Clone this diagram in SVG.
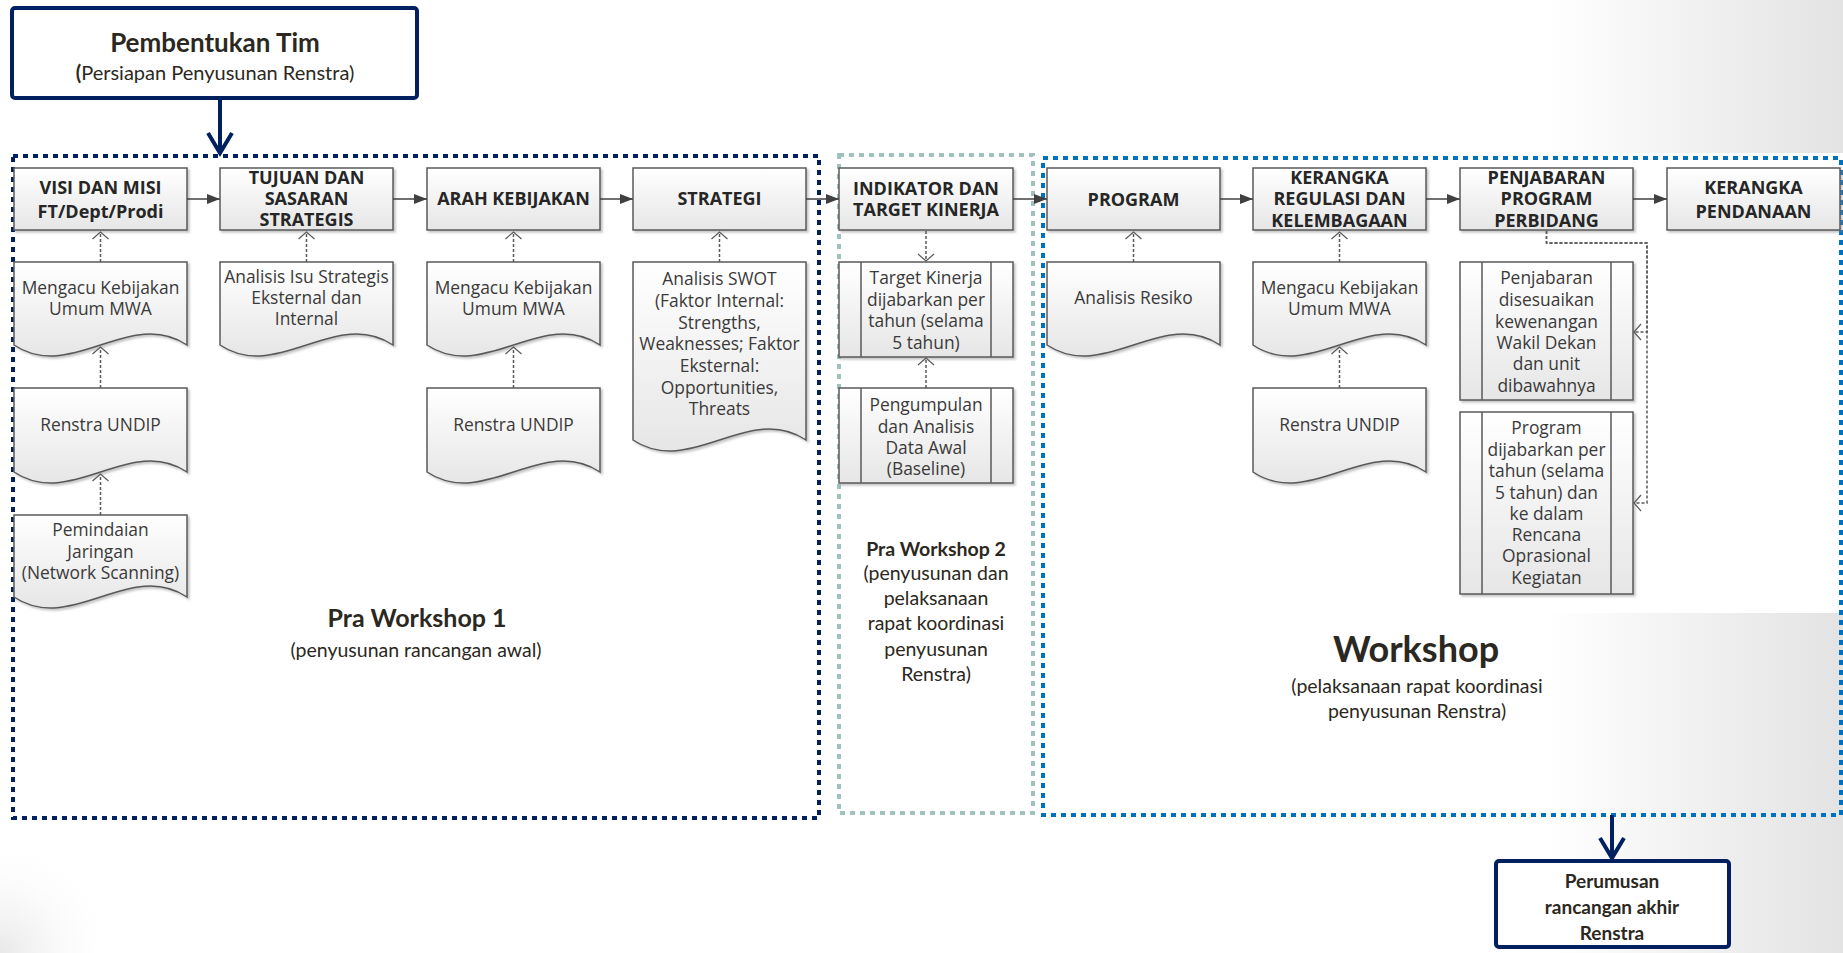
<svg xmlns="http://www.w3.org/2000/svg" width="1843" height="953" viewBox="0 0 1843 953">
<defs>
<style>
.t{font-family:"Open Sans","Noto Sans",sans-serif;font-weight:bold;font-size:18px;fill:#262626;text-anchor:middle;dominant-baseline:central}
.d{font-family:"Open Sans","Noto Sans",sans-serif;font-size:17.4px;fill:#3a3a3a;text-anchor:middle;dominant-baseline:central}
.c{font-family:Lato,"Liberation Sans",sans-serif;fill:#2b2821;text-anchor:middle;dominant-baseline:central}
.shape{fill:url(#sf);stroke:#595959;stroke-width:1.5;filter:url(#sh)}
.inner{stroke:#595959;stroke-width:1.5}
.dot{fill:none;stroke:#595959;stroke-width:1.5;stroke-dasharray:3 2;marker-end:url(#open)}
.sol{fill:none;stroke:#404040;stroke-width:1.5;marker-end:url(#fill)}
.grp{fill:none;stroke-width:4;stroke-dasharray:5 5}
.nav{fill:#fff;stroke:#002060;stroke-width:4}
.navarr{fill:none;stroke:#002060;stroke-width:4}
</style>
<linearGradient id="bg" x1="0" y1="0" x2="1843" y2="0" gradientUnits="userSpaceOnUse">
<stop offset="0" stop-color="#ffffff"/><stop offset="0.84" stop-color="#ffffff"/><stop offset="1" stop-color="#e3e3e3"/>
</linearGradient>
<radialGradient id="bl" cx="0" cy="953" r="120" gradientUnits="userSpaceOnUse">
<stop offset="0" stop-color="#e8e8e8"/><stop offset="1" stop-color="#ffffff" stop-opacity="0"/>
</radialGradient>
<linearGradient id="sf" x1="0" y1="0" x2="0" y2="1">
<stop offset="0" stop-color="#ffffff"/><stop offset="1" stop-color="#e6e6e6"/>
</linearGradient>
<filter id="sh" x="-5%" y="-5%" width="115%" height="120%">
<feDropShadow dx="2" dy="2" stdDeviation="1.2" flood-color="#808080" flood-opacity="0.45"/>
</filter>
<marker id="open" viewBox="0 0 10 18" refX="8" refY="9" markerWidth="10" markerHeight="18" orient="auto" markerUnits="userSpaceOnUse">
<path d="M1,1 L8,9 L1,17" fill="none" stroke="#595959" stroke-width="1.2"/>
</marker>
<marker id="fill" viewBox="0 0 13 10" refX="13" refY="5" markerWidth="13" markerHeight="10" orient="auto" markerUnits="userSpaceOnUse">
<path d="M0,0 L13,5 L0,10 Z" fill="#404040"/>
</marker>
</defs>

<rect x="0" y="0" width="1843" height="953" fill="url(#bg)"/>
<rect x="0" y="833" width="120" height="120" fill="url(#bl)"/>
<rect x="0" y="153" width="1843" height="460" fill="#ffffff"/>

<!-- group containers -->
<g id="containers">
<rect class="grp" x="13" y="156" width="806" height="662" stroke="#002060"/>
<rect class="grp" x="839" y="155" width="194" height="658" stroke="#9fc2bf"/>
<rect class="grp" x="1043" y="158" width="798" height="657" stroke="#0070c0"/>
</g>

<!-- top node -->
<g id="pembentukan">
<rect class="nav" x="12" y="8" width="405" height="90" rx="3"/>
<text class="c" x="215" y="42" font-size="26" font-weight="bold">Pembentukan Tim</text>
<text class="c" x="215" y="72" font-size="20"><tspan font-weight="bold">(</tspan>Persiapan Penyusunan Renstra)</text>
</g>

<g id="perumusan">
<rect class="nav" x="1496" y="861" width="233" height="86" rx="3"/>
<text class="c" font-size="19" font-weight="bold"><tspan x="1612" y="880">Perumusan</tspan><tspan x="1612" y="906">rancangan akhir</tspan><tspan x="1612" y="932">Renstra</tspan></text>
</g>

<!-- main row -->
<g id="visi"><rect class="shape" x="14" y="168" width="173" height="62"/>
<text class="t"><tspan x="100.5" y="187">VISI DAN MISI</tspan><tspan x="100.5" y="211">FT/Dept/Prodi</tspan></text></g>
<g id="tujuan"><rect class="shape" x="220" y="168" width="173" height="62"/>
<text class="t"><tspan x="306.5" y="177">TUJUAN DAN</tspan><tspan x="306.5" y="198">SASARAN</tspan><tspan x="306.5" y="219">STRATEGIS</tspan></text></g>
<g id="arah"><rect class="shape" x="427" y="168" width="173" height="62"/>
<text class="t" x="513.5" y="198">ARAH KEBIJAKAN</text></g>
<g id="strategi"><rect class="shape" x="633" y="168" width="173" height="62"/>
<text class="t" x="719.5" y="198">STRATEGI</text></g>
<g id="indikator"><rect class="shape" x="839" y="168" width="174" height="62"/>
<text class="t"><tspan x="926" y="188">INDIKATOR DAN</tspan><tspan x="926" y="209">TARGET KINERJA</tspan></text></g>
<g id="program"><rect class="shape" x="1047" y="168" width="173" height="62"/>
<text class="t" x="1133.5" y="199">PROGRAM</text></g>
<g id="regulasi"><rect class="shape" x="1253" y="168" width="173" height="62"/>
<text class="t"><tspan x="1339.5" y="177">KERANGKA</tspan><tspan x="1339.5" y="198">REGULASI DAN</tspan><tspan x="1339.5" y="220">KELEMBAGAAN</tspan></text></g>
<g id="penjabaran"><rect class="shape" x="1460" y="168" width="173" height="62"/>
<text class="t"><tspan x="1546.5" y="177">PENJABARAN</tspan><tspan x="1546.5" y="198">PROGRAM</tspan><tspan x="1546.5" y="220">PERBIDANG</tspan></text></g>
<g id="pendanaan"><rect class="shape" x="1667" y="168" width="173" height="62"/>
<text class="t"><tspan x="1753.5" y="187">KERANGKA</tspan><tspan x="1753.5" y="211">PENDANAAN</tspan></text></g>

<!-- documents -->
<g id="doc-mwa1"><path class="shape" d="M14,262 H187 V345 C130,307 71,383 14,345 Z"/>
<text class="d"><tspan x="100.5" y="287">Mengacu Kebijakan</tspan><tspan x="100.5" y="308">Umum MWA</tspan></text></g>
<g id="doc-renstra1"><path class="shape" d="M14,388 H187 V472 C130,434 71,510 14,472 Z"/>
<text class="d" x="100.5" y="424">Renstra UNDIP</text></g>
<g id="doc-pemindaian"><path class="shape" d="M14,515 H187 V597 C130,559 71,635 14,597 Z"/>
<text class="d"><tspan x="100.5" y="529">Pemindaian</tspan><tspan x="100.5" y="551">Jaringan</tspan><tspan x="100.5" y="572">(Network Scanning)</tspan></text></g>
<g id="doc-isu"><path class="shape" d="M220,262 H393 V345 C336,307 277,383 220,345 Z"/>
<text class="d"><tspan x="306.5" y="276">Analisis Isu Strategis</tspan><tspan x="306.5" y="297">Eksternal dan</tspan><tspan x="306.5" y="318">Internal</tspan></text></g>
<g id="doc-mwa2"><path class="shape" d="M427,262 H600 V345 C543,307 484,383 427,345 Z"/>
<text class="d"><tspan x="513.5" y="287">Mengacu Kebijakan</tspan><tspan x="513.5" y="308">Umum MWA</tspan></text></g>
<g id="doc-renstra2"><path class="shape" d="M427,388 H600 V472 C543,434 484,510 427,472 Z"/>
<text class="d" x="513.5" y="424">Renstra UNDIP</text></g>
<g id="doc-swot"><path class="shape" d="M633,262 H806 V440 C749,402 690,478 633,440 Z"/>
<text class="d"><tspan x="719.5" y="278">Analisis SWOT</tspan><tspan x="719.5" y="300">(Faktor Internal:</tspan><tspan x="719.5" y="322">Strengths,</tspan><tspan x="719.5" y="343">Weaknesses; Faktor</tspan><tspan x="719.5" y="365">Eksternal:</tspan><tspan x="719.5" y="387">Opportunities,</tspan><tspan x="719.5" y="408">Threats</tspan></text></g>
<g id="doc-resiko"><path class="shape" d="M1047,262 H1220 V345 C1163,307 1104,383 1047,345 Z"/>
<text class="d" x="1133.5" y="297">Analisis Resiko</text></g>
<g id="doc-mwa3"><path class="shape" d="M1253,262 H1426 V345 C1369,307 1310,383 1253,345 Z"/>
<text class="d"><tspan x="1339.5" y="287">Mengacu Kebijakan</tspan><tspan x="1339.5" y="308">Umum MWA</tspan></text></g>
<g id="doc-renstra3"><path class="shape" d="M1253,388 H1426 V472 C1369,434 1310,510 1253,472 Z"/>
<text class="d" x="1339.5" y="424">Renstra UNDIP</text></g>

<!-- subprocesses -->
<g id="sub-target"><rect class="shape" x="839" y="262" width="174" height="95"/>
<line class="inner" x1="861" y1="262" x2="861" y2="357"/><line class="inner" x1="991" y1="262" x2="991" y2="357"/>
<text class="d"><tspan x="926" y="277">Target Kinerja</tspan><tspan x="926" y="299">dijabarkan per</tspan><tspan x="926" y="320">tahun (selama</tspan><tspan x="926" y="342">5 tahun)</tspan></text></g>
<g id="sub-baseline"><rect class="shape" x="839" y="388" width="174" height="95"/>
<line class="inner" x1="861" y1="388" x2="861" y2="483"/><line class="inner" x1="991" y1="388" x2="991" y2="483"/>
<text class="d"><tspan x="926" y="404">Pengumpulan</tspan><tspan x="926" y="426">dan Analisis</tspan><tspan x="926" y="447">Data Awal</tspan><tspan x="926" y="468">(Baseline)</tspan></text></g>
<g id="sub-kewenangan"><rect class="shape" x="1460" y="262" width="173" height="138"/>
<line class="inner" x1="1482" y1="262" x2="1482" y2="400"/><line class="inner" x1="1611" y1="262" x2="1611" y2="400"/>
<text class="d"><tspan x="1546.5" y="277">Penjabaran</tspan><tspan x="1546.5" y="299">disesuaikan</tspan><tspan x="1546.5" y="321">kewenangan</tspan><tspan x="1546.5" y="342">Wakil Dekan</tspan><tspan x="1546.5" y="363">dan unit</tspan><tspan x="1546.5" y="385">dibawahnya</tspan></text></g>
<g id="sub-rencana"><rect class="shape" x="1460" y="412" width="173" height="182"/>
<line class="inner" x1="1482" y1="412" x2="1482" y2="594"/><line class="inner" x1="1611" y1="412" x2="1611" y2="594"/>
<text class="d"><tspan x="1546.5" y="427">Program</tspan><tspan x="1546.5" y="449">dijabarkan per</tspan><tspan x="1546.5" y="470">tahun (selama</tspan><tspan x="1546.5" y="492">5 tahun) dan</tspan><tspan x="1546.5" y="513">ke dalam</tspan><tspan x="1546.5" y="534">Rencana</tspan><tspan x="1546.5" y="555">Oprasional</tspan><tspan x="1546.5" y="577">Kegiatan</tspan></text></g>

<!-- connectors -->
<g id="connectors">
<path class="sol" d="M187,199 H220"/>
<path class="sol" d="M393,199 H427"/>
<path class="sol" d="M600,199 H633"/>
<path class="sol" d="M806,199 H839"/>
<path class="sol" d="M1013,199 H1047"/>
<path class="sol" d="M1220,199 H1253"/>
<path class="sol" d="M1426,199 H1460"/>
<path class="sol" d="M1633,199 H1667"/>
<path class="dot" d="M100.5,262 V232"/>
<path class="dot" d="M100.5,388 V347"/>
<path class="dot" d="M100.5,515 V474"/>
<path class="dot" d="M306.5,262 V232"/>
<path class="dot" d="M513.5,262 V232"/>
<path class="dot" d="M513.5,388 V347"/>
<path class="dot" d="M719.5,262 V232"/>
<path class="dot" d="M926,231 V261"/>
<path class="dot" d="M926,388 V358"/>
<path class="dot" d="M1133.5,262 V232"/>
<path class="dot" d="M1339.5,262 V232"/>
<path class="dot" d="M1339.5,388 V347"/>
<path class="dot" d="M1546.5,231 V243 H1647 V332 H1634"/>
<path class="dot" d="M1546.5,231 V243 H1647 V503 H1634"/>
<path class="navarr" d="M220,98 V153"/>
<path class="navarr" d="M208,133 L220,153 L232,133"/>
<path class="navarr" d="M1612,815 V858"/>
<path class="navarr" d="M1600,838 L1612,858 L1624,838"/>
</g>

<!-- phase labels -->
<g id="label-pra1">
<text class="c" x="417" y="617" font-size="25" font-weight="bold">Pra Workshop 1</text>
<text class="c" x="416" y="649" font-size="19.5">(penyusunan rancangan awal)</text>
</g>
<g id="label-pra2">
<text class="c" x="936" y="548" font-size="19.5" font-weight="bold">Pra Workshop 2</text>
<text class="c" font-size="19.5"><tspan x="936" y="572">(penyusunan dan</tspan><tspan x="936" y="597">pelaksanaan</tspan><tspan x="936" y="622">rapat koordinasi</tspan><tspan x="936" y="648">penyusunan</tspan><tspan x="936" y="673">Renstra)</tspan></text>
</g>
<g id="label-workshop">
<text class="c" x="1416" y="648" font-size="36" font-weight="bold">Workshop</text>
<text class="c" font-size="19.5"><tspan x="1417" y="685">(pelaksanaan rapat koordinasi</tspan><tspan x="1417" y="710">penyusunan Renstra)</tspan></text>
</g>
</svg>
